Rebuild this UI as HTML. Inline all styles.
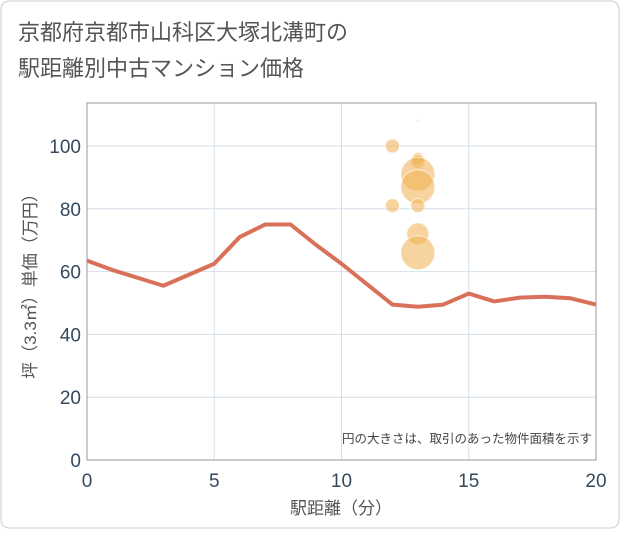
<!DOCTYPE html>
<html><head><meta charset="utf-8"><style>
body{margin:0;background:#fff;font-family:"Liberation Sans","Noto Sans CJK JP",sans-serif}
#wrap{position:relative;width:621px;height:530px}
</style></head><body>
<div id="wrap">
<svg id="svg" width="621" height="530" xmlns="http://www.w3.org/2000/svg">
<rect x="1" y="1" width="618" height="527" rx="8" fill="#fff" stroke="#ccc"/>
<text x="18" y="40" font-size="22" fill="#555" font-family="Liberation Sans,Noto Sans CJK JP,sans-serif">京都府京都市山科区大塚北溝町の</text>
<text x="18" y="76" font-size="22" fill="#555" font-family="Liberation Sans,Noto Sans CJK JP,sans-serif">駅距離別中古マンション価格</text>
<g id="grid"></g><g id="marks"></g><g id="axes"></g>
<text x="592" y="443" font-size="12.5" fill="#444" text-anchor="end" font-family="Liberation Sans,Noto Sans CJK JP,sans-serif">円の大きさは、取引のあった物件面積を示す</text>
<text x="341" y="514" font-size="17" fill="#555" text-anchor="middle" font-family="Liberation Sans,Noto Sans CJK JP,sans-serif">駅距離（分）</text>
<text transform="translate(36,282) rotate(-90)" font-size="17" fill="#555" text-anchor="middle" font-family="Liberation Sans,Noto Sans CJK JP,sans-serif">坪（3.3㎡）単価（万円）</text>
</svg></div>
<script>
const xTicks=[0,5,10,15,20];
const yTicks=[0,20,40,60,80,100];
const lineX=[0,1,2,3,4,5,6,7,8,9,10,11,12,13,14,15,16,17,18,19,20];
const lineY=[63.5,60.5,58,55.5,59,62.5,71,75,75,68.5,62.5,56,49.5,48.8,49.5,53,50.5,51.7,52,51.5,49.5];
const bubX=[12,12,13,13,13,13,13,13,13,13];
const bubY=[100,81,108,96,95,91,87,81,72,66];
const bubR=[7,7,1,6,7,17,17,7,11,17];
const L=87,R=596,T=103,B=460;
const sx=v=>L+(v-0)/20*(R-L);
const sy=v=>B-v*3.14;
const NS="http://www.w3.org/2000/svg";
function mk(t,a,p){const e=document.createElementNS(NS,t);for(const k in a)e.setAttribute(k,a[k]);p.appendChild(e);return e;}
const grid=document.getElementById('grid'),marks=document.getElementById('marks'),axes=document.getElementById('axes');
mk('rect',{x:L,y:T,width:R-L,height:B-T,fill:'#fff',stroke:'#999'},grid);
xTicks.forEach(v=>{const l=mk('line',{x1:sx(v),x2:sx(v),y1:T,y2:B,stroke:'#d5dfea'},grid);

const t=mk('text',{x:sx(v),y:B+27,'font-size':19,fill:'#34495e','text-anchor':'middle'},axes);t.textContent=v;
});
yTicks.forEach(v=>{const l=mk('line',{x1:L,x2:R,y1:sy(v),y2:sy(v),stroke:'#d5dfea'},grid);

const t=mk('text',{x:L-6,y:sy(v)+7,'font-size':19,fill:'#34495e','text-anchor':'end'},axes);t.textContent=v;
});
const p=mk('polyline',{points:lineX.map((x,i)=>sx(x)+','+sy(lineY[i])).join(' '),fill:'none',stroke:'#d9705a','stroke-width':4,'stroke-linejoin':'round'},marks);

bubX.forEach((x,i)=>{const c=mk('circle',{cx:sx(x),cy:sy(bubY[i]),r:bubR[i],fill:'rgba(240,176,80,0.55)',stroke:'rgba(255,255,255,0.6)'},marks);
});
mk('rect',{x:L,y:T,width:R-L,height:B-T,fill:'none',stroke:'#999'},axes);
</script></body></html>
